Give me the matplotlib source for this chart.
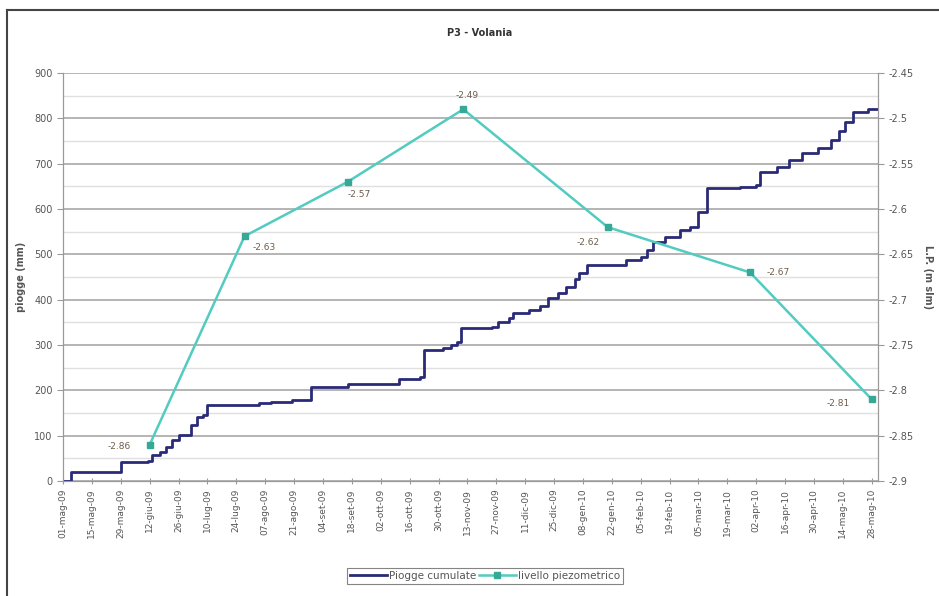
import datetime as dt
import numpy as np
import matplotlib
matplotlib.use("Agg")
from matplotlib import pyplot as plt
from matplotlib import dates as mdates
from matplotlib.lines import Line2D

start = dt.date(2009, 5, 1)

# cumulative rain: day offset from 01-mag-09 and cumulative mm after that day
rain_days = [0, 4, 28, 41, 43, 47, 50, 53, 56, 62, 65, 68, 70, 95, 101, 111,
             120, 138, 163, 173, 175, 184, 188, 191, 193, 208, 211, 216, 218,
             226, 231, 235, 240, 244, 248, 250, 254, 273, 280, 283, 286, 292,
             299, 304, 308, 312, 328, 336, 338, 346, 352, 358, 366, 372, 376,
             379, 383, 390, 395]
rain_mm = [0, 20, 43, 45, 57, 65, 76, 90, 101, 124, 142, 146, 168, 172, 175, 179,
           208, 215, 226, 230, 289, 293, 300, 307, 337, 340, 351, 359, 370,
           377, 385, 403, 415, 429, 445, 459, 476, 487, 495, 510, 528, 539,
           554, 561, 594, 646, 649, 653, 682, 693, 708, 723, 734, 752, 771,
           793, 815, 820, 820]

# piezometric level readings
piezo_dates = [dt.date(2009, 6, 12), dt.date(2009, 7, 28), dt.date(2009, 9, 16),
               dt.date(2009, 11, 11), dt.date(2010, 1, 20), dt.date(2010, 3, 30),
               dt.date(2010, 5, 28)]
piezo_lp = [-2.86, -2.63, -2.57, -2.49, -2.62, -2.67, -2.81]

mesi = ['gen', 'feb', 'mar', 'apr', 'mag', 'giu', 'lug', 'ago', 'set', 'ott', 'nov', 'dic']

rain_dates = [start + dt.timedelta(days=d) for d in rain_days]
tick_dates = [start + dt.timedelta(days=14 * i) for i in range(29)]
tick_labels = ['%02d-%s-%s' % (d.day, mesi[d.month - 1], d.strftime('%y')) for d in tick_dates]

plt.rcParams['font.family'] = ['DejaVu Sans']
fig = plt.figure(figsize=(9.39, 5.96), dpi=100)
ax = fig.add_axes([63 / 939, 115 / 596, 815 / 939, 408 / 596])
ax2 = ax.twinx()

txt = '#555555'
ax.set_ylim(0, 900)
ax.set_yticks(np.arange(0, 901, 100))
ax.set_yticks(np.arange(50, 900, 100), minor=True)
ax.grid(True, axis='y', which='major', color='#a8a8a8', lw=1.2)
ax.grid(True, axis='y', which='minor', color='#e0e0e0', lw=1.0)
ax.set_axisbelow(True)
ax.plot(rain_dates, rain_mm, drawstyle='steps-post', color='#2a2a78', lw=2,
        label='Piogge cumulate', zorder=3)

ax.set_xlim(start, start + dt.timedelta(days=395))
ax.set_xticks(tick_dates)
ax.set_xticklabels(tick_labels, rotation=90, fontsize=6.5, color=txt)
ax.tick_params(axis='x', direction='inout', length=5, color='#999999', pad=3)
ax.tick_params(axis='y', which='major', direction='out', length=4, color='#999999',
               labelsize=7, labelcolor=txt)
ax.tick_params(axis='y', which='minor', length=0)
ax.set_ylabel('piogge (mm)', fontsize=7, fontweight='bold', color=txt, labelpad=6)

ax2.set_ylim(-2.9, -2.45)
r_ticks = np.round(np.arange(-2.9, -2.449, 0.05), 2)
ax2.set_yticks(r_ticks)
ax2.set_yticklabels(['%g' % v for v in r_ticks])
ax2.tick_params(axis='y', direction='out', length=4, color='#999999', labelsize=7,
                labelcolor=txt)
ax2.set_ylabel('L.P. (m slm)', fontsize=7, fontweight='bold', color=txt,
               rotation=270, labelpad=14)
ax2.plot(piezo_dates, piezo_lp, color='#52cbc0', lw=1.8, marker='s', ms=5,
         mfc='#35a898', mec='#35a898', label='livello piezometrico', zorder=4)

# data labels
offsets = [(-22, -1), (14, -8), (8, -9), (3, 10), (-14, -11), (20, 0), (-24, -3)]
for d, v, off in zip(piezo_dates, piezo_lp, offsets):
    ax2.annotate('%g' % v, (mdates.date2num(d), v), xytext=off, textcoords='offset points',
                 ha='center', va='center', fontsize=6.5, color='#6e5e4a')

for a in (ax, ax2):
    a.spines['top'].set_visible(False)
    for s in ('left', 'right', 'bottom'):
        a.spines[s].set_color('#999999')

fig.text(480 / 939, 1 - 33 / 596, 'P3 - Volania', ha='center', va='center',
         fontsize=7, fontweight='bold', color='#333333')

h1, l1 = ax.get_legend_handles_labels()
h2, l2 = ax2.get_legend_handles_labels()
leg = fig.legend(h1 + h2, l1 + l2, loc='center', bbox_to_anchor=(485 / 939, 1 - 576 / 596),
                 ncol=2, fontsize=7.5, frameon=True, fancybox=False, handlelength=3.5,
                 columnspacing=0.3, handletextpad=0.2, borderpad=0.3)
leg.get_frame().set_edgecolor('#666666')
leg.get_frame().set_linewidth(0.8)
for t in leg.get_texts():
    t.set_color(txt)

# outer chart border
fig.add_artist(Line2D([7 / 939, 7 / 939], [0, 1 - 10 / 596], color='#444444', lw=1.5))
fig.add_artist(Line2D([7 / 939, 1], [1 - 10 / 596, 1 - 10 / 596], color='#444444', lw=1.5))

fig.savefig('out.png', dpi=100)
